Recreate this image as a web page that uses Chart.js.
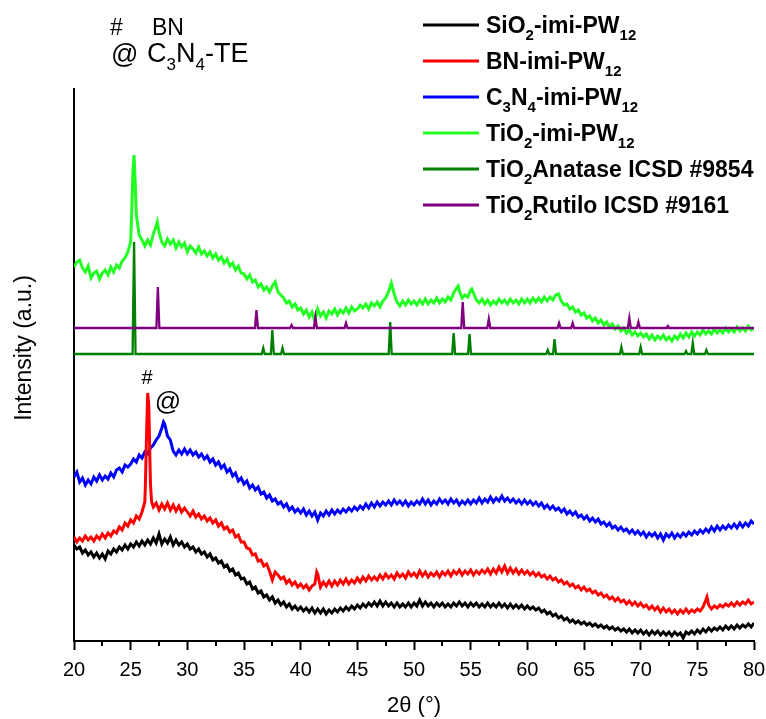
<!DOCTYPE html>
<html>
<head>
<meta charset="utf-8">
<script src="https://cdn.jsdelivr.net/npm/chart.js@4/dist/chart.umd.min.js"></script>
<style>
html,body{margin:0;padding:0;background:#fff;}
canvas{display:block;}
</style>
</head>
<body>
<canvas id="c" width="766" height="719"></canvas>
<script>
// 2θ sampling grid (degrees)
const twoTheta = [
20,20.25,20.5,20.75,21,21.25,21.5,21.75,22,22.25,22.5,22.75,23,23.25,23.5,23.75,24,24.25,24.5,24.75,
25,25.25,25.5,25.75,26,26.25,26.5,26.75,27,27.25,27.5,27.75,28,28.25,28.5,28.75,29,29.25,29.5,29.75,
30,30.25,30.5,30.75,31,31.25,31.5,31.75,32,32.25,32.5,32.75,33,33.25,33.5,33.75,34,34.25,34.5,34.75,
35,35.25,35.5,35.75,36,36.25,36.5,36.75,37,37.25,37.5,37.75,38,38.25,38.5,38.75,39,39.25,39.5,39.75,
40,40.25,40.5,40.75,41,41.25,41.5,41.75,42,42.25,42.5,42.75,43,43.25,43.5,43.75,44,44.25,44.5,44.75,
45,45.25,45.5,45.75,46,46.25,46.5,46.75,47,47.25,47.5,47.75,48,48.25,48.5,48.75,49,49.25,49.5,49.75,
50,50.25,50.5,50.75,51,51.25,51.5,51.75,52,52.25,52.5,52.75,53,53.25,53.5,53.75,54,54.25,54.5,54.75,
55,55.25,55.5,55.75,56,56.25,56.5,56.75,57,57.25,57.5,57.75,58,58.25,58.5,58.75,59,59.25,59.5,59.75,
60,60.25,60.5,60.75,61,61.25,61.5,61.75,62,62.25,62.5,62.75,63,63.25,63.5,63.75,64,64.25,64.5,64.75,
65,65.25,65.5,65.75,66,66.25,66.5,66.75,67,67.25,67.5,67.75,68,68.25,68.5,68.75,69,69.25,69.5,69.75,
70,70.25,70.5,70.75,71,71.25,71.5,71.75,72,72.25,72.5,72.75,73,73.25,73.5,73.75,74,74.25,74.5,74.75,
75,75.25,75.5,75.75,76,76.25,76.5,76.75,77,77.25,77.5,77.75,78,78.25,78.5,78.75,79,79.25,79.5,79.75,
80];

// TiO2-imi-PW12 (offset intensity, a.u.)
const tio2Y = [
383,388,390,382,378,384,372,377,379,371,377,380,375,383,378,385,382,389,392,398,
408,488,435,415,410,404,410,405,416,424,418,408,404,411,406,410,402,408,403,407,
398,404,401,397,403,396,399,394,398,392,396,390,393,387,391,384,387,380,384,377,
376,371,375,368,370,363,366,360,363,358,364,368,358,355,352,347,349,343,346,340,
342,336,340,333,338,329,341,334,338,332,339,336,341,335,340,337,342,337,343,339,
341,345,342,346,341,347,344,348,343,349,352,358,367,356,348,344,349,345,350,346,
349,345,350,346,351,346,350,347,352,347,351,348,353,350,357,362,359,352,355,353,
360,357,350,347,351,346,350,345,349,346,351,347,350,346,351,347,350,346,351,347,
351,347,352,348,352,348,353,349,353,350,355,356,349,345,346,341,343,338,340,335,
337,332,334,329,332,327,330,325,328,323,326,321,324,319,322,317,320,315,318,314,
317,313,316,311,315,310,314,311,315,310,313,309,314,311,316,312,317,313,318,314,
318,315,320,316,319,316,321,317,320,317,322,318,321,318,323,319,322,319,324,320,
322];
const tio2PeakX = [25.1,25.2,25.3,25.4,27.35,53.9,55.1];
const tio2PeakY = [440,478,495,468,428,364,361];

// C3N4-imi-PW12
const c3n4Y = [
173,178,168,172,165,170,166,173,169,175,170,174,171,177,173,180,182,178,185,183,
186,191,188,195,192,198,196,202,205,210,214,222,226,214,210,199,195,200,196,201,
196,200,195,198,193,196,191,194,188,191,185,188,182,185,178,181,174,177,169,172,
166,169,162,165,160,163,156,158,152,155,149,151,146,148,143,146,140,143,138,141,
137,141,135,139,134,138,130,137,134,139,135,140,136,140,137,141,138,142,139,143,
140,144,141,146,142,147,143,148,144,148,145,149,145,150,146,149,145,149,144,148,
145,149,146,151,146,150,145,149,146,151,147,150,146,151,147,150,145,149,146,150,
146,150,147,152,147,151,148,153,148,152,149,154,149,152,148,151,147,150,146,150,
146,149,145,148,144,147,142,145,141,144,140,142,138,141,136,139,135,138,133,135,
131,134,129,132,128,131,126,128,124,127,122,124,120,123,119,121,117,120,116,119,
115,118,113,117,114,117,112,116,110,116,113,117,112,116,113,117,114,118,115,119,
116,120,117,121,118,123,119,124,120,124,121,125,122,126,122,127,123,127,124,129,
126];
const c3n4PeakX = [27.9];
const c3n4PeakY = [228];

// BN-imi-PW12
const bnY = [
113,108,112,109,114,110,113,109,114,111,116,112,117,114,119,117,123,120,127,124,
130,127,134,131,138,148,257,165,143,147,140,146,141,147,140,145,139,144,138,142,
138,134,139,133,136,131,134,129,132,127,130,124,127,121,123,118,120,113,115,108,
108,102,101,95,96,89,90,84,86,79,70,78,75,71,73,67,70,65,68,63,
66,62,65,60,64,66,76,63,68,64,69,64,69,65,70,66,71,66,70,67,
72,68,73,69,74,70,73,70,75,71,76,72,75,71,77,73,76,72,78,74,
77,73,79,74,78,73,77,74,78,73,78,75,79,74,79,76,80,75,79,76,
80,75,79,76,80,77,81,76,81,77,83,78,84,77,82,77,81,76,80,76,
79,75,78,74,77,73,75,71,74,70,72,68,70,66,68,64,66,62,64,60,
63,59,61,57,59,55,57,53,55,51,53,49,52,48,50,46,49,45,48,44,
47,43,45,41,44,40,43,38,42,38,41,37,40,36,40,37,41,37,40,38,
41,39,43,50,45,41,44,42,45,43,46,44,47,44,48,45,48,46,50,46,
48];
const bnPeakX = [26.3,26.4,26.6,26.7,26.85,41.42,75.85];
const bnPeakY = [165,215,245,190,148,78,53];

// SiO2-imi-PW12
const sio2Y = [
105,101,103,97,100,95,98,93,97,92,96,91,99,96,101,98,103,100,105,101,
106,103,108,104,109,105,110,106,112,107,116,106,111,107,113,105,110,105,108,103,
106,101,103,98,101,96,98,93,96,90,92,87,89,83,85,79,81,75,77,71,
72,66,68,61,63,57,59,53,55,50,53,47,50,45,48,43,46,41,44,40,
43,39,42,38,42,37,41,37,41,36,40,37,41,38,42,39,43,40,44,41,
45,42,46,43,47,44,48,44,49,44,48,44,47,43,47,43,46,43,47,43,
47,44,50,44,48,44,47,43,47,44,47,43,46,43,47,44,48,44,47,43,
47,44,47,43,46,43,47,43,46,43,47,43,46,42,46,42,45,42,45,41,
44,41,43,40,42,38,40,36,38,34,36,32,34,30,32,28,30,27,29,26,
28,25,27,24,26,23,25,22,24,21,23,20,22,19,21,18,21,17,20,17,
20,16,19,15,19,16,19,15,18,15,18,14,18,15,17,12,18,16,19,16,
20,17,21,18,22,19,22,20,23,20,24,21,24,21,25,22,25,23,26,23,
27];

// Reference patterns: peak positions and heights, and baselines
const anataseX = [25.3,36.7,37.5,38.4,47.9,53.5,54.9,61.8,62.4,68.3,70.0,74.0,74.6,75.8];
const anataseY = [408,302,320,302,328,317,316,300,311,303,303,299,307,300];
const anataseBase = 296;
const rutileX = [27.4,36.1,39.2,41.3,44.0,54.3,56.6,62.8,64.0,69.0,69.8,72.4];
const rutileY = [363,340,325,333,327,348,331,327,327,332,328,324];
const rutileBase = 322;

// Labels
const seriesLabels = ['SiO2-imi-PW12','BN-imi-PW12','C3N4-imi-PW12','TiO2-imi-PW12','TiO2Anatase ICSD #9854','TiO2Rutilo ICSD #9161'];
const legendParts = [
  ['SiO','2','-imi-PW','12'],
  ['BN-imi-PW','12'],
  ['C','3','N','4','-imi-PW','12'],
  ['TiO','2','-imi-PW','12'],
  ['TiO','2','Anatase ICSD #9854'],
  ['TiO','2','Rutilo ICSD #9161']
];
const seriesColors = ['#000000','#ff0000','#0000ff','#22ff22','#008000','#800080'];
const xTicksMinor = [22.5,27.5,32.5,37.5,42.5,47.5,52.5,57.5,62.5,67.5,72.5,77.5];
const markLabels = ['#','@'];
const markX = [26.45,28.3];
const markY = [272,247];

function mergeSeries(gx, gy, px, py) {
  const pts = gx.map((x, i) => ({x: x, y: gy[i]}));
  (px || []).forEach((x, i) => pts.push({x: x, y: py[i]}));
  pts.sort((a, b) => a.x - b.x);
  return pts;
}
function stickPattern(px, py, base, lo, hi) {
  const w = 0.13;
  const pts = [{x: lo, y: base}];
  px.forEach((x, i) => {
    pts.push({x: x - w, y: base});
    pts.push({x: x, y: py[i]});
    pts.push({x: x + w, y: base});
  });
  pts.push({x: hi, y: base});
  return pts;
}

const FONT = '"Liberation Sans", Arial, Helvetica, sans-serif';

function drawParts(ctx, parts, x, y, size, subSize, weight, subDy) {
  let cx = x;
  parts.forEach((p, i) => {
    const sub = i % 2 === 1;
    ctx.font = weight + ' ' + (sub ? subSize : size) + 'px ' + FONT;
    ctx.fillText(p, cx, sub ? y + subDy : y);
    cx += ctx.measureText(p).width;
  });
}

const decor = {
  id: 'decor',
  beforeDraw(chart) {
    const ctx = chart.ctx;
    ctx.save();
    ctx.fillStyle = '#fff';
    ctx.fillRect(0, 0, chart.width, chart.height);
    ctx.restore();
  },
  afterDraw(chart) {
    const ctx = chart.ctx;
    const xs = chart.scales.x, ys = chart.scales.y;
    const area = chart.chartArea;
    ctx.save();
    // minor ticks
    ctx.strokeStyle = '#000';
    ctx.lineWidth = 2;
    xTicksMinor.forEach(v => {
      const px = Math.round(xs.getPixelForValue(v));
      ctx.beginPath();
      ctx.moveTo(px, area.bottom);
      ctx.lineTo(px, area.bottom + 5);
      ctx.stroke();
    });
    ctx.fillStyle = '#000';
    ctx.textBaseline = 'alphabetic';
    ctx.textAlign = 'left';
    // legend
    const rowY = [25, 61, 97, 133, 169, 205];
    legendParts.forEach((parts, i) => {
      ctx.strokeStyle = seriesColors[i];
      ctx.lineWidth = 3;
      ctx.beginPath();
      ctx.moveTo(423, rowY[i]);
      ctx.lineTo(479, rowY[i]);
      ctx.stroke();
      ctx.fillStyle = '#000';
      drawParts(ctx, parts, 486, rowY[i] + 8, 23, 15, 'bold', 7);
    });
    // top-left annotation
    ctx.font = '23px ' + FONT;
    ctx.fillText('#', 110, 35);
    ctx.fillText('BN', 152, 35);
    ctx.font = '27px ' + FONT;
    ctx.fillText('@', 111, 63);
    drawParts(ctx, ['C','3','N','4','-TE'], 147, 62, 27, 17, 'normal', 8);
    // peak markers
    ctx.textAlign = 'center';
    ctx.textBaseline = 'middle';
    markLabels.forEach((t, i) => {
      ctx.font = (i === 0 ? 20 : 26) + 'px ' + FONT;
      ctx.fillText(t, xs.getPixelForValue(markX[i]), ys.getPixelForValue(markY[i]));
    });
    // axis titles
    ctx.font = '22px ' + FONT;
    ctx.fillText('2θ (°)', 414, 706);
    ctx.save();
    ctx.translate(25, 348);
    ctx.rotate(-Math.PI / 2);
    ctx.font = '23px ' + FONT;
    ctx.fillText('Intensity (a.u.)', 0, 0);
    ctx.restore();
    ctx.restore();
  }
};

const ds = (label, data, color, order, bw) => ({
  label: label, data: data, borderColor: color, backgroundColor: color,
  borderWidth: bw, pointRadius: 0, tension: 0, fill: false, order: order
});

new Chart(document.getElementById('c'), {
  type: 'line',
  data: {
    datasets: [
      ds(seriesLabels[0], mergeSeries(twoTheta, sio2Y), seriesColors[0], 4, 3),
      ds(seriesLabels[1], mergeSeries(twoTheta, bnY, bnPeakX, bnPeakY), seriesColors[1], 3, 3),
      ds(seriesLabels[2], mergeSeries(twoTheta, c3n4Y, c3n4PeakX, c3n4PeakY), seriesColors[2], 5, 3),
      ds(seriesLabels[3], mergeSeries(twoTheta, tio2Y, tio2PeakX, tio2PeakY), seriesColors[3], 6, 3),
      ds(seriesLabels[4], stickPattern(anataseX, anataseY, anataseBase, 20, 80), seriesColors[4], 2, 2.3),
      ds(seriesLabels[5], stickPattern(rutileX, rutileY, rutileBase, 20, 80), seriesColors[5], 1, 2.3)
    ]
  },
  options: {
    responsive: false,
    animation: false,
    events: [],
    layout: { padding: { left: 0, right: 12, top: 89, bottom: 0 } },
    plugins: { legend: { display: false }, tooltip: { enabled: false } },
    scales: {
      x: {
        type: 'linear', min: 20, max: 80,
        ticks: { stepSize: 5, color: '#000', font: { family: FONT, size: 20 }, padding: 8, maxRotation: 0, autoSkip: false },
        grid: { display: true, drawOnChartArea: false, drawTicks: true, tickLength: 9, tickWidth: 2, tickColor: '#000' },
        border: { display: true, color: '#000', width: 2 },
        afterFit: s => { s.height = 78; s.paddingLeft = 0; s.paddingRight = 0; }
      },
      y: {
        type: 'linear', min: 9, max: 561,
        ticks: { display: false },
        grid: { display: false },
        border: { display: true, color: '#000', width: 2 },
        afterFit: s => { s.width = 74; }
      }
    }
  },
  plugins: [decor]
});
</script>
</body>
</html>
